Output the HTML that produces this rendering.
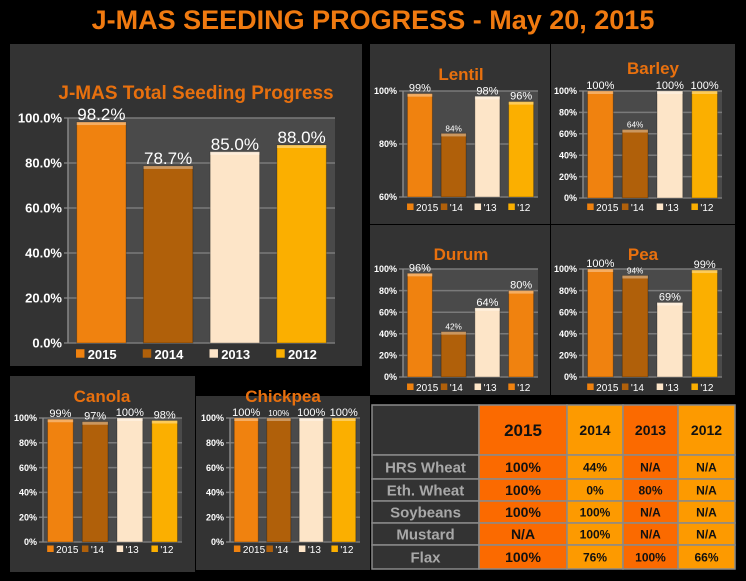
<!DOCTYPE html>
<html><head><meta charset="utf-8">
<style>
html,body{margin:0;padding:0;background:#000;width:746px;height:581px;overflow:hidden}
svg{display:block;font-family:"Liberation Sans",sans-serif}
</style></head><body>
<svg id="svg" width="746" height="581" xmlns="http://www.w3.org/2000/svg">
<rect x="0" y="0" width="746" height="581" fill="#000"/>
<text x="373" y="29" text-anchor="middle" font-size="27" font-weight="bold" fill="#f07a10">J-MAS SEEDING PROGRESS - May 20, 2015</text>
<rect x="10" y="44" width="352" height="322" fill="#333"/>
<rect x="370" y="44" width="180" height="180" fill="#333"/>
<rect x="551" y="44" width="184" height="180" fill="#333"/>
<rect x="370" y="225" width="180" height="170" fill="#333"/>
<rect x="551" y="225" width="184" height="170" fill="#333"/>
<rect x="10" y="376" width="185" height="196" fill="#333"/>
<rect x="196" y="396" width="174" height="174" fill="#333"/>
<g id="charts"></g>
</svg>
<script>
const categories=["2015","2014","2013","2012"];
const shortLabels=["2015","'14","'13","'12"];
const mainValues=[98.2,78.7,85.0,88.0];
const mainLabels=["98.2%","78.7%","85.0%","88.0%"];
const mainTicks=[0,20,40,60,80,100];
const lentilValues=[99,84,98,96];
const lentilTicks=[60,80,100];
const barleyValues=[100,64,100,100];
const durumValues=[96,42,64,80];
const peaValues=[100,94,69,99];
const canolaValues=[99,97,100,98];
const chickpeaValues=[100,100,100,100];
const pctTicks=[0,20,40,60,80,100];

const NS="http://www.w3.org/2000/svg";
const root=document.getElementById('charts');
function mk(tag,attrs,parent){const e=document.createElementNS(NS,tag);for(const k in attrs)e.setAttribute(k,attrs[k]);(parent||root).appendChild(e);return e;}

function chart(o){
  const g=mk('g',{});
  
  
  const ymin=o.ticks[0],ymax=o.ticks[o.ticks.length-1];
  const y=v=>o.bottom-(v-ymin)/(ymax-ymin)*(o.bottom-o.top);
  const bw=(o.right-o.left)/categories.length;
  const bx=i=>o.left+bw*i+bw*0.13;
  const w=bw*0.74;
  const pa=mk('rect',{x:o.left,y:o.top,width:o.right-o.left,height:o.bottom-o.top,fill:'#4a4a4a'},g);
  
  
  o.ticks.forEach(t=>{
    const gl=mk('line',{x1:o.left-4,x2:o.right,y1:y(t),y2:y(t),stroke:'#7a7a7a','stroke-width':1.5},g);
    
    
    const tl=mk('text',{x:o.left-6,y:y(t)+o.tf*0.35,'text-anchor':'end','font-size':o.tf,'font-weight':'bold',fill:'#fff'},g);
    
    
    tl.textContent=(o.dec?t.toFixed(1):t)+'%';
  });
  mk('line',{x1:o.left,x2:o.left,y1:o.top,y2:o.bottom,stroke:'#888','stroke-width':1.5},g);
  o.values.forEach((v,i)=>{
    const r=mk('rect',{x:bx(i),y:y(v),width:w,height:o.bottom-y(v),fill:o.colors[i],stroke:'rgba(0,0,0,0.25)'},g);
    
    
    mk('rect',{x:bx(i),y:y(v),width:w,height:3,fill:'rgba(255,255,255,0.35)'},g);
    const sm=(i===1&&o.small14);
    const t=mk('text',{x:bx(i)+w/2,y:y(v)-2,'text-anchor':'middle','font-size':sm?o.vf*0.75:o.vf,fill:'#fff'},g);
    
    
    t.textContent=o.labels?o.labels[i]:v+'%';
  });
  const tt=mk('text',{x:o.tx,y:o.ty,'text-anchor':'middle','font-size':o.titleSize,'font-weight':'bold',fill:'#e8700e'},g);
  
  
  tt.textContent=o.title;
  const lab=o.main?categories:shortLabels;
  lab.forEach((l,i)=>{
    const lx=o.left+bw*i+bw*0.12;
    const sq=mk('rect',{x:lx,y:o.ly-o.lf*0.75,width:o.lf*0.65,height:o.lf*0.65,fill:o.colors[i]},g);
    
    
    const lt=mk('text',{x:lx+o.lf*0.9,y:o.ly,'font-size':o.lf,'font-weight':o.main?'bold':'normal',fill:'#fff'},g);
    
    
    lt.textContent=l;
  });
}
const C=['#f0820f','#b0600a','#fde5c8','#fbaf00'];
const CD=['#f0820f','#b0600a','#fde5c8','#f0820f'];
chart({name:'total',title:'J-MAS Total Seeding Progress',values:mainValues,labels:mainLabels,ticks:mainTicks,dec:true,left:68,right:335,top:118,bottom:343,colors:C,tf:13,vf:17,titleSize:19,tx:196,ty:99,ly:359,lf:13,main:true});
chart({name:'lentil',title:'Lentil',values:lentilValues,ticks:lentilTicks,left:403,right:538,top:91,bottom:197,colors:C,tf:9,vf:11,small14:true,titleSize:17,tx:461,ty:80,ly:211,lf:10});
chart({name:'barley',title:'Barley',values:barleyValues,ticks:pctTicks,left:583,right:722,top:91,bottom:198,colors:C,tf:9,vf:11,small14:true,titleSize:17,tx:653,ty:74,ly:211,lf:10});
chart({name:'durum',title:'Durum',values:durumValues,ticks:pctTicks,left:403,right:538,top:269,bottom:377,colors:CD,tf:9,vf:11,small14:true,titleSize:17,tx:461,ty:260,ly:391,lf:10});
chart({name:'pea',title:'Pea',values:peaValues,ticks:pctTicks,left:583,right:722,top:269,bottom:377,colors:C,tf:9,vf:11,small14:true,titleSize:17,tx:643,ty:260,ly:391,lf:10});
chart({name:'canola',title:'Canola',values:canolaValues,ticks:pctTicks,left:43,right:182,top:418,bottom:542,colors:C,tf:9,vf:11,titleSize:17,tx:102,ty:402,ly:553,lf:10});
chart({name:'chickpea',title:'Chickpea',values:chickpeaValues,ticks:pctTicks,left:230,right:360,top:418,bottom:542,colors:C,tf:9,vf:11,small14:true,titleSize:17,tx:283,ty:402,ly:553,lf:10});

// table
const rowNames=["HRS Wheat","Eth. Wheat","Soybeans","Mustard","Flax"];
const tableData=[["100%","44%","N/A","N/A"],["100%","0%","80%","N/A"],["100%","100%","N/A","N/A"],["N/A","100%","N/A","N/A"],["100%","76%","100%","66%"]];
const colX=[372,479,567,623,678,735];
const rowY=[405,455,479,501,523,545,569];
const colFill=['#333','#fb6a00','#fd9a00','#fb6a00','#fd9a00'];
const tg=mk('g',{});


for(let r=0;r<6;r++)for(let c=0;c<5;c++){
  const cell=mk('rect',{x:colX[c],y:rowY[r],width:colX[c+1]-colX[c],height:rowY[r+1]-rowY[r],fill:colFill[c],stroke:'#8a8a8a','stroke-width':1.5},tg);
  
  
  let txt='';
  if(r===0){txt=c===0?'':categories[c-1];}
  else txt=c===0?rowNames[r-1]:tableData[r-1][c-1];
  if(txt){
    const big=(c===1)||(c===0);
    const fs=r===0?(c===1?17:14):(c===0?15:(c===1?14:12));
    const t=mk('text',{x:(colX[c]+colX[c+1])/2,y:(rowY[r]+rowY[r+1])/2+fs*0.36,'text-anchor':'middle','font-size':fs,'font-weight':'bold',fill:c===0?'#a8a8a8':'#111'},tg);
    
    
    t.textContent=txt;
  }
}
</script>
</body></html>
